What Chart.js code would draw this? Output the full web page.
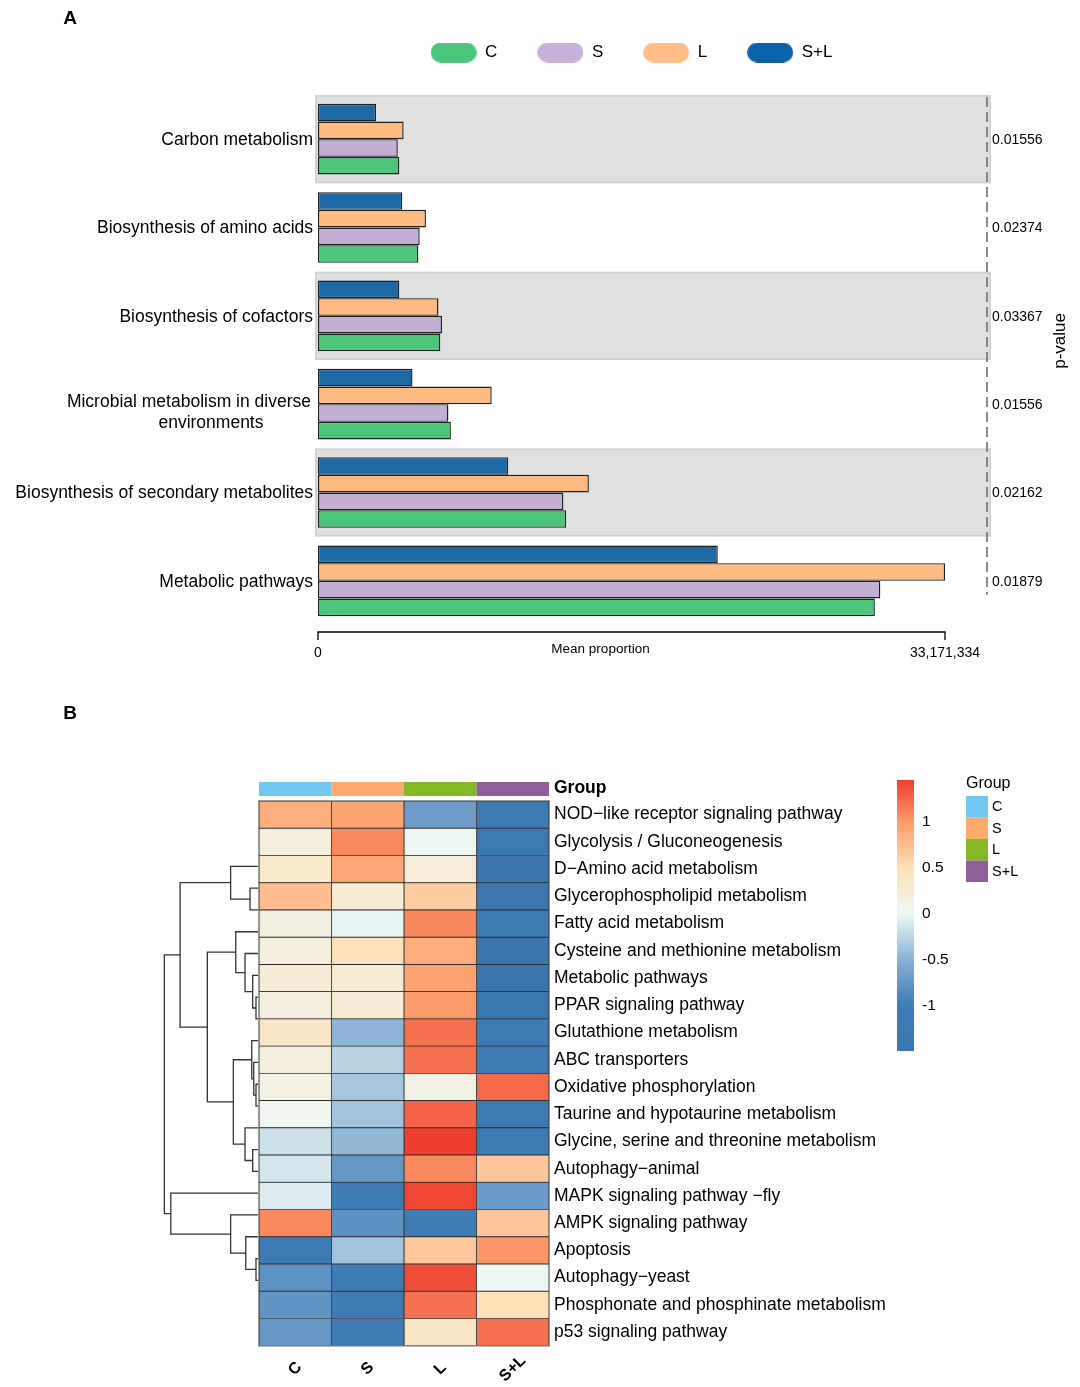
<!DOCTYPE html>
<html>
<head>
<meta charset="utf-8">
<script src="https://cdn.jsdelivr.net/npm/chart.js@4.4.1/dist/chart.umd.min.js"></script>
<style>
  html, body { margin: 0; padding: 0; background: #fff; }
  #quadro { position: relative; width: 1080px; height: 1387px; }
  canvas { position: absolute; left: 0; }
  #graficoA { top: 0; }
  #graficoB { top: 680px; }
</style>
</head>
<body>
<div id="quadro">
  <canvas id="graficoA" width="1080" height="680"></canvas>
  <canvas id="graficoB" width="1080" height="707"></canvas>
</div>
<script>
// ---------- Dados do painel A ----------
const vias = ['Carbon metabolism', 'Biosynthesis of amino acids', 'Biosynthesis of cofactors',
  ['Microbial metabolism in diverse', 'environments'], 'Biosynthesis of secondary metabolites', 'Metabolic pathways'];
const mediaC  = [4300000, 5310000, 6470000, 7030000, 13130000, 29460000];
const mediaS  = [4220000, 5380000, 6560000, 6900000, 12980000, 29750000];
const mediaL  = [4530000, 5710000, 6370000, 9190000, 14330000, 33171334];
const mediaSL = [3070000, 4460000, 4300000, 5000000, 10060000, 21150000];
const pValores = ['0.01556', '0.02374', '0.03367', '0.01556', '0.02162', '0.01879'];
const ticksA = [0, 33171334];

// ---------- Dados do painel B (heatmap) ----------
const grupos = ['C', 'S', 'L', 'S+L'];
const viasB = [
  'NOD\u2212like receptor signaling pathway', 'Glycolysis / Gluconeogenesis', 'D\u2212Amino acid metabolism',
  'Glycerophospholipid metabolism', 'Fatty acid metabolism', 'Cysteine and methionine metabolism',
  'Metabolic pathways', 'PPAR signaling pathway', 'Glutathione metabolism', 'ABC transporters',
  'Oxidative phosphorylation', 'Taurine and hypotaurine metabolism', 'Glycine, serine and threonine metabolism',
  'Autophagy\u2212animal', 'MAPK signaling pathway \u2212fly', 'AMPK signaling pathway', 'Apoptosis',
  'Autophagy\u2212yeast', 'Phosphonate and phosphinate metabolism', 'p53 signaling pathway'];
const zC  = [0.87, 0.20, 0.34, 0.76, 0.16, 0.20, 0.27, 0.20, 0.37, 0.20, 0.15, 0.05, -0.17, -0.13, -0.09, 1.09, -1.10, -0.80, -0.78, -0.74];
const zS  = [0.94, 1.09, 0.93, 0.28, -0.03, 0.47, 0.28, 0.26, -0.47, -0.27, -0.36, -0.38, -0.46, -0.75, -1.00, -0.81, -0.38, -1.00, -1.00, -1.00];
const zL  = [-0.69, -0.01, 0.23, 0.65, 1.10, 0.88, 0.95, 1.00, 1.21, 1.21, 0.15, 1.28, 1.46, 1.09, 1.42, -1.00, 0.68, 1.38, 1.21, 0.40];
const zSL = [-1.20, -1.28, -1.50, -1.45, -1.23, -1.50, -1.50, -1.46, -1.11, -1.14, 1.25, -1.20, -1.20, 0.69, -0.71, 0.69, 1.02, -0.01, 0.50, 1.21];
const ticksLegenda = [1, 0.5, 0, -0.5, -1];

// Dendrograma das linhas (formato hclust: negativo = folha, positivo = fusao anterior)
const fusaoA = [-7, -11, -19, -10, -6, -14, -9, -2, -18, -5, -13, -4, 7, -1, -17, 12, 14, -16, 17];
const fusaoB = [-8, -12, -20, 2, 1, -15, 4, -3, 3, 5, 6, 10, 11, 8, 9, 13, 16, 15, 18];
const alturas = [0.032, 0.032, 0.032, 0.056, 0.067, 0.067, 0.077, 0.095, 0.14, 0.148, 0.148, 0.246, 0.271, 0.30, 0.30, 0.546, 0.834, 0.932, 1.0];

document.addEventListener("DOMContentLoaded", function () {
  const FONTE = "'Liberation Sans', Arial, sans-serif";
  Chart.defaults.font.family = FONTE;
  Chart.defaults.color = '#000';

  // Cores das series
  const corBarra = { C: '#4cc47a', S: '#c3aed4', L: '#ffbb82', SL: '#1c69a6' };
  const corPilula = { C: '#4dc47c', S: '#c5b1d8', L: '#ffbe88', SL: '#0b62a8' };
  const corGrupo = ['#6ec8ef', '#fdaa6c', '#84b923', '#8f5f9c'];

  // Escala de cores do heatmap
  const paradas = [[-1.5, '#3a75ae'], [-1, '#3f7cb5'], [-0.5, '#8ab2d5'], [0, '#eef8f5'],
    [0.5, '#fde0b8'], [1, '#fd9c6a'], [1.46, '#ee3e2e']];

  function hexParaRgb(h) {
    return [1, 3, 5].map(i => parseInt(h.slice(i, i + 2), 16));
  }

  function corDoValor(v) {
    if (v <= paradas[0][0]) return paradas[0][1];
    for (let i = 1; i < paradas.length; i++) {
      if (v <= paradas[i][0]) {
        const [v0, c0] = paradas[i - 1];
        const [v1, c1] = paradas[i];
        const t = (v - v0) / (v1 - v0);
        const a = hexParaRgb(c0), b = hexParaRgb(c1);
        const rgb = a.map((x, k) => Math.round(x + (b[k] - x) * t));
        return `rgb(${rgb.join(',')})`;
      }
    }
    return paradas[paradas.length - 1][1];
  }

  // Pilula da legenda desenhada num canvas pequeno
  function pilula(cor) {
    const c = document.createElement('canvas');
    c.width = 46; c.height = 20;
    const g = c.getContext('2d');
    g.fillStyle = cor;
    g.beginPath();
    g.roundRect(0, 0, 46, 20, 10);
    g.fill();
    return c;
  }

  // ================= Painel A =================
  const enfeitesA = {
    id: 'enfeitesA',
    beforeDatasetsDraw(chart) {
      const { ctx, chartArea: a, scales: { y } } = chart;
      const meio = (y.getPixelForValue(1) - y.getPixelForValue(0)) / 2;
      ctx.save();
      vias.forEach((_, i) => {
        if (i % 2) return;
        const cy = y.getPixelForValue(i);
        ctx.fillStyle = '#e0e0e0';
        ctx.fillRect(a.left - 2, cy - meio + 1, a.right - a.left + 47, 2 * meio - 2);
        ctx.strokeStyle = '#d2d2d2';
        ctx.lineWidth = 2;
        ctx.strokeRect(a.left - 2, cy - meio + 1, a.right - a.left + 47, 2 * meio - 2);
      });
      ctx.restore();
    },
    afterDraw(chart) {
      const { ctx, chartArea: a, scales: { x, y } } = chart;
      ctx.save();
      ctx.fillStyle = '#000';

      // rotulos das vias
      ctx.font = `17.5px ${FONTE}`;
      ctx.textBaseline = 'middle';
      vias.forEach((rotulo, i) => {
        const cy = y.getPixelForValue(i);
        if (Array.isArray(rotulo)) {
          const largura = ctx.measureText(rotulo[0]).width;
          ctx.textAlign = 'center';
          rotulo.forEach((linha, k) => {
            ctx.fillText(linha, a.left - 7 - largura / 2 + k * 22, cy + 9 + (k - (rotulo.length - 1) / 2) * 21);
          });
        } else {
          ctx.textAlign = 'right';
          ctx.fillText(rotulo, a.left - 5, cy + 1);
        }
      });

      // linha tracejada e p-valores
      const xl = a.right + 42;
      ctx.strokeStyle = '#666';
      ctx.lineWidth = 1.5;
      ctx.setLineDash([10, 5]);
      ctx.beginPath();
      ctx.moveTo(xl, a.top + 2);
      ctx.lineTo(xl, y.getPixelForValue(vias.length - 1) + 14);
      ctx.stroke();
      ctx.setLineDash([]);
      ctx.font = `14px ${FONTE}`;
      ctx.textAlign = 'left';
      pValores.forEach((p, i) => ctx.fillText(p, xl + 5, y.getPixelForValue(i) + 1));

      ctx.save();
      ctx.translate(1060, (a.top + y.getPixelForValue(vias.length - 1)) / 2 + 3);
      ctx.rotate(-Math.PI / 2);
      ctx.font = `17px ${FONTE}`;
      ctx.textAlign = 'center';
      ctx.fillText('p-value', 0, 0);
      ctx.restore();

      // colchete do eixo x
      const x0 = x.getPixelForValue(ticksA[0]);
      const x1 = x.getPixelForValue(ticksA[1]);
      const yb = a.bottom + 7;
      ctx.strokeStyle = '#000';
      ctx.lineWidth = 1.3;
      ctx.beginPath();
      ctx.moveTo(x0, yb + 8); ctx.lineTo(x0, yb); ctx.lineTo(x1, yb); ctx.lineTo(x1, yb + 8);
      ctx.stroke();
      ctx.font = `13.5px ${FONTE}`;
      ctx.textAlign = 'center';
      ctx.fillText('Mean proportion', (x0 + x1) / 2 - 31, a.bottom + 24);

      ctx.font = `bold 19px ${FONTE}`;
      ctx.fillText('A', 70, 19);
      ctx.restore();
    }
  };

  const seriesA = [
    { label: 'S+L', data: mediaSL, cor: corBarra.SL, pil: corPilula.SL },
    { label: 'L', data: mediaL, cor: corBarra.L, pil: corPilula.L },
    { label: 'S', data: mediaS, cor: corBarra.S, pil: corPilula.S },
    { label: 'C', data: mediaC, cor: corBarra.C, pil: corPilula.C },
  ];

  new Chart(document.getElementById('graficoA'), {
    type: 'bar',
    data: {
      labels: vias,
      datasets: seriesA.map(s => ({
        label: s.label,
        data: s.data,
        backgroundColor: s.cor,
        borderColor: '#1e1e1e',
        borderWidth: 1.4,
        borderSkipped: false,
        barPercentage: 1,
        categoryPercentage: 0.8,
      })),
    },
    options: {
      indexAxis: 'y',
      responsive: false,
      animation: false,
      layout: { padding: { left: 318, right: 135, top: 4, bottom: 0 } },
      plugins: {
        tooltip: { enabled: false },
        legend: {
          position: 'top',
          fullSize: false,
          reverse: true,
          labels: {
            usePointStyle: true,
            pointStyleWidth: 46,
            boxHeight: 20,
            padding: 40,
            color: '#000',
            font: { size: 17 },
            generateLabels: chart => chart.data.datasets.map((ds, i) => ({
              text: ds.label,
              fillStyle: ds.backgroundColor,
              strokeStyle: ds.backgroundColor,
              lineWidth: 0,
              hidden: false,
              datasetIndex: i,
              fontColor: '#000',
              pointStyle: pilula(seriesA[i].pil),
            })),
          },
        },
      },
      scales: {
        x: {
          type: 'linear',
          position: 'bottom',
          min: 0,
          max: ticksA[1],
          grid: { display: false, drawTicks: false },
          border: { display: false },
          ticks: {
            padding: 20,
            color: '#000',
            font: { size: 14 },
            callback: v => v.toLocaleString('en-US'),
          },
          afterBuildTicks: s => { s.ticks = ticksA.map(v => ({ value: v })); },
          afterFit: s => { s.height = 55; },
        },
        xTopo: {
          type: 'linear',
          position: 'top',
          grid: { display: false, drawTicks: false },
          border: { display: false },
          ticks: { display: false },
          afterFit: s => { s.height = 24; },
        },
        y: { type: 'category', display: false, offset: true },
      },
    },
    plugins: [enfeitesA],
  });

  // ================= Painel B =================
  const LARG_DENDRO = 1.306;   // largura do dendrograma em colunas (altura 1)
  const INICIO_X = -1.366;     // borda esquerda da area do grafico
  const colunasZ = [zC, zS, zL, zSL];
  const todosZ = colunasZ.flat();
  const zMax = Math.max(...todosZ);
  const zMin = Math.min(...todosZ);

  // posicoes dos nos do dendrograma
  const nos = [];
  function posFilho(c) {
    return c < 0 ? { y: -c - 1, h: 0 } : nos[c - 1];
  }
  const linhasDendro = alturas.map((h, k) => {
    const a = posFilho(fusaoA[k]);
    const b = posFilho(fusaoB[k]);
    nos.push({ y: (a.y + b.y) / 2, h: h });
    return {
      type: 'line',
      xAxisID: 'x',
      yAxisID: 'yd',
      data: [
        { x: -a.h * LARG_DENDRO, y: a.y },
        { x: -h * LARG_DENDRO, y: a.y },
        { x: -h * LARG_DENDRO, y: b.y },
        { x: -b.h * LARG_DENDRO, y: b.y },
      ],
      borderColor: '#333',
      borderWidth: 1.3,
      pointRadius: 0,
      fill: false,
      tension: 0,
    };
  });

  const celulas = colunasZ.map((col, j) => ({
    type: 'bar',
    label: grupos[j],
    xAxisID: 'x',
    yAxisID: 'y',
    data: col.map(() => [j, j + 1]),
    backgroundColor: col.map(corDoValor),
    borderColor: '#2e2e2e',
    borderWidth: 0.8,
    borderSkipped: false,
    grouped: false,
    barPercentage: 1,
    categoryPercentage: 1,
  }));

  const enfeitesB = {
    id: 'enfeitesB',
    afterDraw(chart) {
      const { ctx, chartArea: a, scales: { x } } = chart;
      ctx.save();
      const x0 = x.getPixelForValue(0);
      const x4 = x.getPixelForValue(grupos.length);
      ctx.strokeStyle = '#9a9a9a';
      ctx.lineWidth = 1;
      ctx.strokeRect(x0 - 0.5, a.top - 0.5, x4 - x0 + 1, a.bottom - a.top + 1);

      // barra de anotacao e rotulos das colunas
      grupos.forEach((g, j) => {
        const xa = x.getPixelForValue(j);
        const xb = x.getPixelForValue(j + 1);
        ctx.fillStyle = corGrupo[j];
        ctx.fillRect(xa, a.top - 19, xb - xa, 14);
        ctx.save();
        ctx.translate((xa + xb) / 2, a.bottom + 23);
        ctx.rotate(-Math.PI / 4);
        ctx.font = `bold 16px ${FONTE}`;
        ctx.fillStyle = '#000';
        ctx.textAlign = 'center';
        ctx.textBaseline = 'middle';
        ctx.fillText(g, 0, 0);
        ctx.restore();
      });
      ctx.fillStyle = '#000';
      ctx.textBaseline = 'middle';
      ctx.textAlign = 'left';
      ctx.font = `bold 17.5px ${FONTE}`;
      ctx.fillText('Group', x4 + 5, a.top - 13);

      // legenda de cores
      const kx = 897, ky = 100, kw = 17, kh = 271;
      const grad = ctx.createLinearGradient(0, ky, 0, ky + kh);
      for (let k = 0; k <= 60; k++) {
        grad.addColorStop(k / 60, corDoValor(zMax - (k / 60) * (zMax - zMin)));
      }
      ctx.fillStyle = grad;
      ctx.fillRect(kx, ky, kw, kh);
      ctx.fillStyle = '#000';
      ctx.font = `15.5px ${FONTE}`;
      ticksLegenda.forEach(v => {
        const yy = ky + (zMax - v) / (zMax - zMin) * kh;
        ctx.fillText(String(v), kx + 25, yy);
      });

      // legenda dos grupos
      ctx.font = `16px ${FONTE}`;
      ctx.fillText('Group', 966, 104);
      ctx.font = `14.5px ${FONTE}`;
      grupos.forEach((g, j) => {
        ctx.fillStyle = corGrupo[j];
        ctx.fillRect(966, 116 + j * 21.5, 22, 21.5);
        ctx.fillStyle = '#000';
        ctx.fillText(g, 992, 116 + j * 21.5 + 11);
      });

      ctx.font = `bold 19px ${FONTE}`;
      ctx.textAlign = 'center';
      ctx.fillText('B', 70, 34);
      ctx.restore();
    }
  };

  new Chart(document.getElementById('graficoB'), {
    type: 'bar',
    data: {
      labels: viasB,
      datasets: [...celulas, ...linhasDendro],
    },
    options: {
      indexAxis: 'y',
      responsive: false,
      animation: false,
      layout: { padding: { left: 160, right: 161, top: 121, bottom: 41.3 } },
      plugins: { legend: { display: false }, tooltip: { enabled: false } },
      scales: {
        x: { type: 'linear', min: INICIO_X, max: grupos.length, display: false },
        y: {
          type: 'category',
          position: 'right',
          offset: true,
          grid: { display: false, drawTicks: false },
          border: { display: false },
          ticks: { autoSkip: false, padding: 5, color: '#000', font: { size: 17.5 } },
          afterFit: s => { s.width = 370; },
        },
        yd: { type: 'linear', min: -0.5, max: viasB.length - 0.5, reverse: true, display: false },
      },
    },
    plugins: [enfeitesB],
  });
});
</script>
</body>
</html>
